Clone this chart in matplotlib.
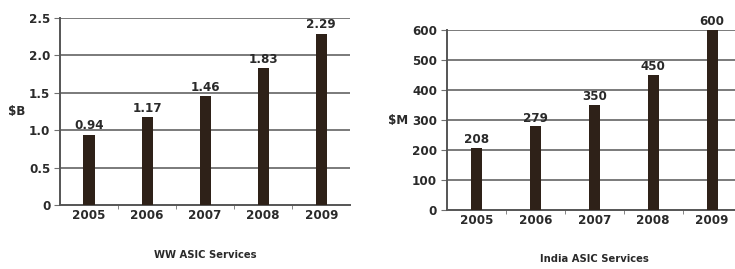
import matplotlib
matplotlib.use("Agg")
import matplotlib.pyplot as plt

years = ["2005", "2006", "2007", "2008", "2009"]
ww_values = [0.94, 1.17, 1.46, 1.83, 2.29]
ww_labels = ["0.94", "1.17", "1.46", "1.83", "2.29"]
india_values = [208, 279, 350, 450, 600]
india_labels = ["208", "279", "350", "450", "600"]
ww_ticks = [0, 0.5, 1.0, 1.5, 2.0, 2.5]
ww_ticklabels = ["0", "0.5", "1.0", "1.5", "2.0", "2.5"]
india_ticks = [0, 100, 200, 300, 400, 500, 600]
india_ticklabels = ["0", "100", "200", "300", "400", "500", "600"]

plt.rcParams["font.family"] = ["DejaVu Sans"]
plt.rcParams["font.stretch"] = "condensed"

bar_color = "#2e2118"
grid_color = "#707070"
text_color = "#2a2a2a"
fs = 9.5

fig = plt.figure(figsize=(7.35, 2.69), dpi=100)

def draw(ax, values, labels, ticks, ticklabels, ylabel, title, ymax, off, minor, ylpad, xlpad):
    x = list(range(len(years)))
    ax.set_axisbelow(True)
    for t in ticks[1:]:
        ax.axhline(t, color=grid_color, lw=1.3, zorder=0)
    ax.bar(x, values, width=0.19, color=bar_color, zorder=3)
    for xi, v, lab in zip(x, values, labels):
        ax.text(xi, v + off, lab, ha="center", va="bottom", fontsize=fs,
                fontweight="bold", color=text_color, fontstretch="condensed")
    ax.set_xlim(-0.5, len(years) - 0.5)
    ax.set_ylim(0, ymax)
    ax.set_yticks(ticks)
    ax.set_yticklabels(ticklabels, fontsize=fs, fontweight="bold", color=text_color,
                       fontstretch="condensed")
    ax.set_xticks(x)
    ax.set_xticklabels(years, fontsize=fs, fontweight="bold", color=text_color,
                       fontstretch="condensed")
    ax.set_xticks(minor, minor=True)
    ax.tick_params(axis="x", which="major", length=0, pad=3)
    ax.tick_params(axis="x", which="minor", length=3, color=grid_color, direction="out")
    ax.tick_params(axis="y", length=4, color=grid_color, pad=3)
    for s in ["top", "right"]:
        ax.spines[s].set_visible(False)
    for s in ["left", "bottom"]:
        ax.spines[s].set_color("#555555")
        ax.spines[s].set_linewidth(1.4)
    ax.set_ylabel(ylabel, rotation=0, fontsize=fs, fontweight="bold",
                  color=text_color, labelpad=ylpad, va="center", fontstretch="condensed")
    ax.set_xlabel(title, fontsize=8, fontweight="bold", color=text_color,
                  labelpad=xlpad, fontstretch="condensed")

ax1 = fig.add_axes([0.0816, 0.238, 0.395, 0.695])
draw(ax1, ww_values, ww_labels, ww_ticks, ww_ticklabels, "$B", "WW ASIC Services",
     2.5, 0.03, [0.5, 1.5, 2.5, 3.5], 9, 20)

ax2 = fig.add_axes([0.608, 0.219, 0.401, 0.669])
draw(ax2, india_values, india_labels, india_ticks, india_ticklabels, "$M", "India ASIC Services",
     600, 6, [0.5, 1.5, 2.5, 3.5], 10, 19)

fig.savefig("out.png", dpi=100)
